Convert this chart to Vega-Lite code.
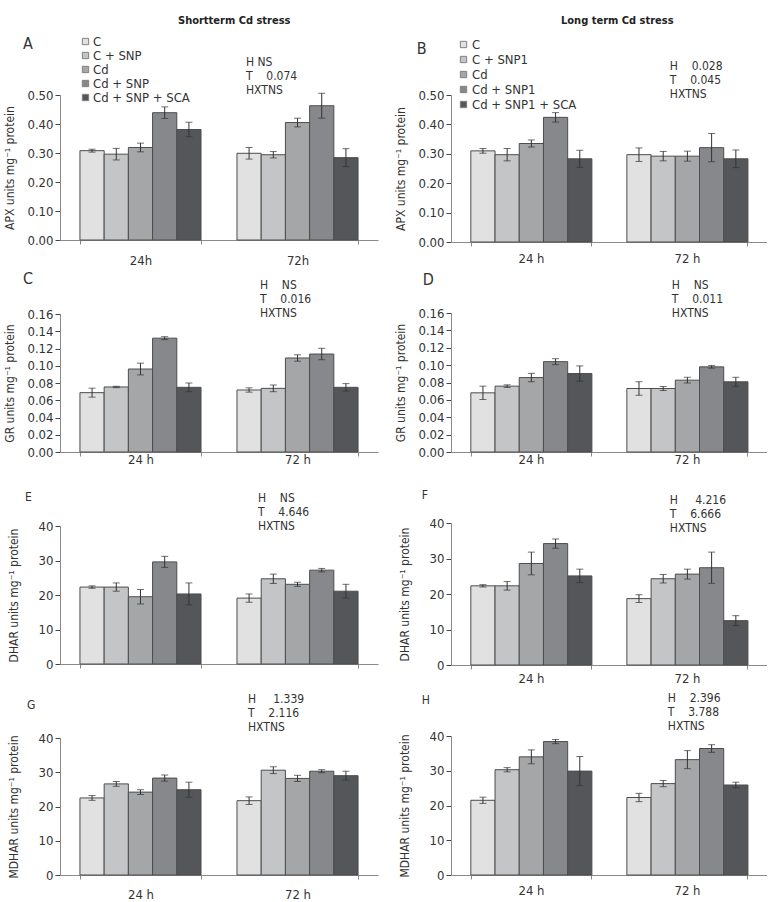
{
"$schema": "https://vega.github.io/schema/vega-lite/v6.json",
"background": "white",
"padding": {"left": 3, "top": 15, "right": 0, "bottom": 0},
"datasets": {"d": [
{"p":"A","h":"24 h","k":1,"g":"C","m":0.308,"lo":0.303,"hi":0.313},
{"p":"A","h":"24 h","k":2,"g":"C + SNP","m":0.296,"lo":0.276,"hi":0.316},
{"p":"A","h":"24 h","k":3,"g":"Cd","m":0.319,"lo":0.304,"hi":0.334},
{"p":"A","h":"24 h","k":4,"g":"Cd + SNP","m":0.439,"lo":0.419,"hi":0.459},
{"p":"A","h":"24 h","k":5,"g":"Cd + SNP + SCA","m":0.381,"lo":0.356,"hi":0.406},
{"p":"A","h":"72 h","k":1,"g":"C","m":0.299,"lo":0.279,"hi":0.319},
{"p":"A","h":"72 h","k":2,"g":"C + SNP","m":0.294,"lo":0.283,"hi":0.305},
{"p":"A","h":"72 h","k":3,"g":"Cd","m":0.405,"lo":0.390,"hi":0.420},
{"p":"A","h":"72 h","k":4,"g":"Cd + SNP","m":0.463,"lo":0.420,"hi":0.506},
{"p":"A","h":"72 h","k":5,"g":"Cd + SNP + SCA","m":0.284,"lo":0.253,"hi":0.315},
{"p":"B","h":"24 h","k":1,"g":"C","m":0.310,"lo":0.302,"hi":0.318},
{"p":"B","h":"24 h","k":2,"g":"C + SNP1","m":0.297,"lo":0.276,"hi":0.318},
{"p":"B","h":"24 h","k":3,"g":"Cd","m":0.335,"lo":0.323,"hi":0.347},
{"p":"B","h":"24 h","k":4,"g":"Cd + SNP1","m":0.424,"lo":0.408,"hi":0.440},
{"p":"B","h":"24 h","k":5,"g":"Cd + SNP1 + SCA","m":0.283,"lo":0.254,"hi":0.312},
{"p":"B","h":"72 h","k":1,"g":"C","m":0.297,"lo":0.274,"hi":0.320},
{"p":"B","h":"72 h","k":2,"g":"C + SNP1","m":0.292,"lo":0.276,"hi":0.308},
{"p":"B","h":"72 h","k":3,"g":"Cd","m":0.292,"lo":0.275,"hi":0.309},
{"p":"B","h":"72 h","k":4,"g":"Cd + SNP1","m":0.321,"lo":0.273,"hi":0.369},
{"p":"B","h":"72 h","k":5,"g":"Cd + SNP1 + SCA","m":0.283,"lo":0.253,"hi":0.313},
{"p":"C","h":"24 h","k":1,"g":"C","m":0.0688,"lo":0.0636,"hi":0.0740},
{"p":"C","h":"24 h","k":2,"g":"C + SNP","m":0.0754,"lo":0.0746,"hi":0.0762},
{"p":"C","h":"24 h","k":3,"g":"Cd","m":0.0962,"lo":0.0894,"hi":0.1030},
{"p":"C","h":"24 h","k":4,"g":"Cd + SNP","m":0.1320,"lo":0.1303,"hi":0.1337},
{"p":"C","h":"24 h","k":5,"g":"Cd + SNP + SCA","m":0.0750,"lo":0.0700,"hi":0.0800},
{"p":"C","h":"72 h","k":1,"g":"C","m":0.0719,"lo":0.0694,"hi":0.0744},
{"p":"C","h":"72 h","k":2,"g":"C + SNP","m":0.0738,"lo":0.0699,"hi":0.0777},
{"p":"C","h":"72 h","k":3,"g":"Cd","m":0.1090,"lo":0.1053,"hi":0.1127},
{"p":"C","h":"72 h","k":4,"g":"Cd + SNP","m":0.1136,"lo":0.1070,"hi":0.1202},
{"p":"C","h":"72 h","k":5,"g":"Cd + SNP + SCA","m":0.0750,"lo":0.0707,"hi":0.0793},
{"p":"D","h":"24 h","k":1,"g":"C","m":0.0681,"lo":0.0604,"hi":0.0758},
{"p":"D","h":"24 h","k":2,"g":"C + SNP1","m":0.0758,"lo":0.0743,"hi":0.0773},
{"p":"D","h":"24 h","k":3,"g":"Cd","m":0.0857,"lo":0.0809,"hi":0.0905},
{"p":"D","h":"24 h","k":4,"g":"Cd + SNP1","m":0.1040,"lo":0.1006,"hi":0.1074},
{"p":"D","h":"24 h","k":5,"g":"Cd + SNP1 + SCA","m":0.0903,"lo":0.0815,"hi":0.0991},
{"p":"D","h":"72 h","k":1,"g":"C","m":0.0731,"lo":0.0653,"hi":0.0809},
{"p":"D","h":"72 h","k":2,"g":"C + SNP1","m":0.0731,"lo":0.0708,"hi":0.0754},
{"p":"D","h":"72 h","k":3,"g":"Cd","m":0.0827,"lo":0.0794,"hi":0.0860},
{"p":"D","h":"72 h","k":4,"g":"Cd + SNP1","m":0.0980,"lo":0.0965,"hi":0.0995},
{"p":"D","h":"72 h","k":5,"g":"Cd + SNP1 + SCA","m":0.0808,"lo":0.0756,"hi":0.0860},
{"p":"E","h":"24 h","k":1,"g":"C","m":22.3,"lo":21.95,"hi":22.65},
{"p":"E","h":"24 h","k":2,"g":"C + SNP","m":22.3,"lo":21.1,"hi":23.5},
{"p":"E","h":"24 h","k":3,"g":"Cd","m":19.5,"lo":17.4,"hi":21.6},
{"p":"E","h":"24 h","k":4,"g":"Cd + SNP","m":29.6,"lo":28.0,"hi":31.2},
{"p":"E","h":"24 h","k":5,"g":"Cd + SNP + SCA","m":20.3,"lo":17.1,"hi":23.5},
{"p":"E","h":"72 h","k":1,"g":"C","m":19.1,"lo":17.9,"hi":20.3},
{"p":"E","h":"72 h","k":2,"g":"C + SNP","m":24.7,"lo":23.35,"hi":26.05},
{"p":"E","h":"72 h","k":3,"g":"Cd","m":23.1,"lo":22.5,"hi":23.7},
{"p":"E","h":"72 h","k":4,"g":"Cd + SNP","m":27.2,"lo":26.7,"hi":27.7},
{"p":"E","h":"72 h","k":5,"g":"Cd + SNP + SCA","m":21.1,"lo":19.1,"hi":23.1},
{"p":"F","h":"24 h","k":1,"g":"C","m":22.3,"lo":21.97,"hi":22.63},
{"p":"F","h":"24 h","k":2,"g":"C + SNP1","m":22.3,"lo":21.1,"hi":23.5},
{"p":"F","h":"24 h","k":3,"g":"Cd","m":28.6,"lo":25.4,"hi":31.8},
{"p":"F","h":"24 h","k":4,"g":"Cd + SNP1","m":34.2,"lo":32.9,"hi":35.5},
{"p":"F","h":"24 h","k":5,"g":"Cd + SNP1 + SCA","m":25.1,"lo":23.2,"hi":27.0},
{"p":"F","h":"72 h","k":1,"g":"C","m":18.7,"lo":17.6,"hi":19.8},
{"p":"F","h":"72 h","k":2,"g":"C + SNP1","m":24.3,"lo":23.1,"hi":25.5},
{"p":"F","h":"72 h","k":3,"g":"Cd","m":25.6,"lo":24.2,"hi":27.0},
{"p":"F","h":"72 h","k":4,"g":"Cd + SNP1","m":27.4,"lo":23.0,"hi":31.8},
{"p":"F","h":"72 h","k":5,"g":"Cd + SNP1 + SCA","m":12.5,"lo":11.1,"hi":13.9},
{"p":"G","h":"24 h","k":1,"g":"C","m":22.5,"lo":21.8,"hi":23.2},
{"p":"G","h":"24 h","k":2,"g":"C + SNP","m":26.6,"lo":25.9,"hi":27.3},
{"p":"G","h":"24 h","k":3,"g":"Cd","m":24.2,"lo":23.5,"hi":24.9},
{"p":"G","h":"24 h","k":4,"g":"Cd + SNP","m":28.3,"lo":27.4,"hi":29.2},
{"p":"G","h":"24 h","k":5,"g":"Cd + SNP + SCA","m":24.9,"lo":22.7,"hi":27.1},
{"p":"G","h":"72 h","k":1,"g":"C","m":21.7,"lo":20.6,"hi":22.8},
{"p":"G","h":"72 h","k":2,"g":"C + SNP","m":30.6,"lo":29.6,"hi":31.6},
{"p":"G","h":"72 h","k":3,"g":"Cd","m":28.2,"lo":27.3,"hi":29.1},
{"p":"G","h":"72 h","k":4,"g":"Cd + SNP","m":30.3,"lo":29.85,"hi":30.75},
{"p":"G","h":"72 h","k":5,"g":"Cd + SNP + SCA","m":29.0,"lo":27.7,"hi":30.3},
{"p":"H","h":"24 h","k":1,"g":"C","m":21.5,"lo":20.6,"hi":22.4},
{"p":"H","h":"24 h","k":2,"g":"C + SNP1","m":30.3,"lo":29.7,"hi":30.9},
{"p":"H","h":"24 h","k":3,"g":"Cd","m":34.0,"lo":32.0,"hi":36.0},
{"p":"H","h":"24 h","k":4,"g":"Cd + SNP1","m":38.4,"lo":37.8,"hi":39.0},
{"p":"H","h":"24 h","k":5,"g":"Cd + SNP1 + SCA","m":29.9,"lo":25.7,"hi":34.1},
{"p":"H","h":"72 h","k":1,"g":"C","m":22.3,"lo":21.1,"hi":23.5},
{"p":"H","h":"72 h","k":2,"g":"C + SNP1","m":26.3,"lo":25.4,"hi":27.2},
{"p":"H","h":"72 h","k":3,"g":"Cd","m":33.2,"lo":30.6,"hi":35.8},
{"p":"H","h":"72 h","k":4,"g":"Cd + SNP1","m":36.4,"lo":35.3,"hi":37.5},
{"p":"H","h":"72 h","k":5,"g":"Cd + SNP1 + SCA","m":25.9,"lo":25.1,"hi":26.7}
]},
"spacing": 16,
"resolve": {"scale": {"color": "independent", "x": "independent", "y": "independent"}},
"hconcat": [
{
 "title": {"text": "Shortterm Cd stress", "anchor": "start", "frame": "group", "dx": 118, "offset": 9},
 "bounds": "flush",
 "spacing": 74,
 "resolve": {"scale": {"color": "independent", "x": "independent", "y": "independent"}},
 "vconcat": [
 {
  "width": 318, "height": 145,
  "data": {"name": "d"},
  "transform": [{"filter": "datum.p == 'A'"}],
  "encoding": {"x": {"field": "h", "type": "nominal", "title": null, "scale": {"paddingInner": 0.229, "paddingOuter": 0.127}, "axis": {"title": null, "labelExpr": "isString(datum.value) ? replace(datum.value, ' ', '') : ''", "labelPadding": 10}}},
  "layer": [
   {"mark": {"type": "bar", "stroke": "#4d4d4d", "strokeWidth": 1},
    "encoding": {
     "xOffset": {"field": "k", "type": "ordinal", "scale": {"paddingInner": 0, "paddingOuter": 0}},
     "y": {"field": "m", "type": "quantitative", "scale": {"domain": [0, 0.5], "nice": false}, "axis": {"title": "APX units mg\u207b\u00b9 protein", "values": [0, 0.1, 0.2, 0.3, 0.4, 0.5], "format": ".2f", "titlePadding": 10}},
     "color": {"field": "g", "type": "nominal", "scale": {"domain": ["C", "C + SNP", "Cd", "Cd + SNP", "Cd + SNP + SCA"], "range": ["#e1e1e1", "#c4c5c7", "#a5a6a8", "#87888b", "#55565a"]}, "legend": {"title": null, "orient": "none", "legendX": 19, "legendY": -60, "symbolType": "square", "symbolSize": 40, "symbolStrokeColor": "#808080", "symbolStrokeWidth": 1, "labelFontSize": 13, "labelColor": "#333", "rowPadding": 0, "labelOffset": 1, "padding": 0}}}},
   {"mark": {"type": "rule", "color": "#333", "strokeWidth": 1}, "encoding": {"xOffset": {"field": "k", "type": "ordinal"}, "y": {"field": "lo", "type": "quantitative", "axis": {"title": "APX units mg\u207b\u00b9 protein", "values": [0, 0.1, 0.2, 0.3, 0.4, 0.5], "format": ".2f", "titlePadding": 10}}, "y2": {"field": "hi"}}},
   {"mark": {"type": "tick", "color": "#333", "size": 7, "thickness": 1}, "encoding": {"xOffset": {"field": "k", "type": "ordinal"}, "y": {"field": "lo", "type": "quantitative", "axis": {"title": "APX units mg\u207b\u00b9 protein", "values": [0, 0.1, 0.2, 0.3, 0.4, 0.5], "format": ".2f", "titlePadding": 10}}}},
   {"mark": {"type": "tick", "color": "#333", "size": 7, "thickness": 1}, "encoding": {"xOffset": {"field": "k", "type": "ordinal"}, "y": {"field": "hi", "type": "quantitative", "axis": {"title": "APX units mg\u207b\u00b9 protein", "values": [0, 0.1, 0.2, 0.3, 0.4, 0.5], "format": ".2f", "titlePadding": 10}}}},
   {"data": {"values": [{}]}, "mark": {"type": "text", "align": "left", "baseline": "top", "fontSize": 12, "lineHeight": 14, "dx": 9, "color": "#333"}, "encoding": {"x": {"datum": "72 h", "type": "nominal", "bandPosition": 0}, "y": {"datum": 0.631, "type": "quantitative", "axis": {"title": "APX units mg\u207b\u00b9 protein", "values": [0, 0.1, 0.2, 0.3, 0.4, 0.5], "format": ".2f", "titlePadding": 10}}, "text": {"value": ["H\u00a0NS", "T\u00a0\u00a0\u00a0\u00a00.074", "HXTNS"]}}},
   {"data": {"values": [{}]}, "mark": {"type": "text", "align": "left", "baseline": "top", "fontSize": 16, "dx": -57, "color": "#333"}, "encoding": {"x": {"datum": "24 h", "type": "nominal", "bandPosition": 0}, "y": {"datum": 0.703, "type": "quantitative", "axis": {"title": "APX units mg\u207b\u00b9 protein", "values": [0, 0.1, 0.2, 0.3, 0.4, 0.5], "format": ".2f", "titlePadding": 10}}, "text": {"value": "A"}}}
  ]
 },
 {
  "width": 318, "height": 138,
  "data": {"name": "d"},
  "transform": [{"filter": "datum.p == 'C'"}],
  "encoding": {"x": {"field": "h", "type": "nominal", "title": null, "scale": {"paddingInner": 0.229, "paddingOuter": 0.127}, "axis": {"title": null, "labelPadding": -3}}},
  "layer": [
   {"mark": {"type": "bar", "stroke": "#4d4d4d", "strokeWidth": 1},
    "encoding": {
     "xOffset": {"field": "k", "type": "ordinal", "scale": {"paddingInner": 0, "paddingOuter": 0}},
     "y": {"field": "m", "type": "quantitative", "scale": {"domain": [0, 0.16], "nice": false}, "axis": {"title": "GR units mg\u207b\u00b9 protein", "values": [0, 0.02, 0.04, 0.06, 0.08, 0.1, 0.12, 0.14, 0.16], "format": ".2f", "titlePadding": 10}},
     "color": {"field": "g", "type": "nominal", "scale": {"domain": ["C", "C + SNP", "Cd", "Cd + SNP", "Cd + SNP + SCA"], "range": ["#e1e1e1", "#c4c5c7", "#a5a6a8", "#87888b", "#55565a"]}, "legend": null}}},
   {"mark": {"type": "rule", "color": "#333", "strokeWidth": 1}, "encoding": {"xOffset": {"field": "k", "type": "ordinal"}, "y": {"field": "lo", "type": "quantitative", "axis": {"title": "GR units mg\u207b\u00b9 protein", "values": [0, 0.02, 0.04, 0.06, 0.08, 0.1, 0.12, 0.14, 0.16], "format": ".2f", "titlePadding": 10}}, "y2": {"field": "hi"}}},
   {"mark": {"type": "tick", "color": "#333", "size": 7, "thickness": 1}, "encoding": {"xOffset": {"field": "k", "type": "ordinal"}, "y": {"field": "lo", "type": "quantitative", "axis": {"title": "GR units mg\u207b\u00b9 protein", "values": [0, 0.02, 0.04, 0.06, 0.08, 0.1, 0.12, 0.14, 0.16], "format": ".2f", "titlePadding": 10}}}},
   {"mark": {"type": "tick", "color": "#333", "size": 7, "thickness": 1}, "encoding": {"xOffset": {"field": "k", "type": "ordinal"}, "y": {"field": "hi", "type": "quantitative", "axis": {"title": "GR units mg\u207b\u00b9 protein", "values": [0, 0.02, 0.04, 0.06, 0.08, 0.1, 0.12, 0.14, 0.16], "format": ".2f", "titlePadding": 10}}}},
   {"data": {"values": [{}]}, "mark": {"type": "text", "align": "left", "baseline": "top", "fontSize": 12, "lineHeight": 14, "dx": 23, "color": "#333"}, "encoding": {"x": {"datum": "72 h", "type": "nominal", "bandPosition": 0}, "y": {"datum": 0.1994, "type": "quantitative", "axis": {"title": "GR units mg\u207b\u00b9 protein", "values": [0, 0.02, 0.04, 0.06, 0.08, 0.1, 0.12, 0.14, 0.16], "format": ".2f", "titlePadding": 10}}, "text": {"value": ["H\u00a0\u00a0\u00a0\u00a0NS", "T\u00a0\u00a0\u00a0\u00a00.016", "HXTNS"]}}},
   {"data": {"values": [{}]}, "mark": {"type": "text", "align": "left", "baseline": "top", "fontSize": 16, "dx": -57, "color": "#333"}, "encoding": {"x": {"datum": "24 h", "type": "nominal", "bandPosition": 0}, "y": {"datum": 0.2099, "type": "quantitative", "axis": {"title": "GR units mg\u207b\u00b9 protein", "values": [0, 0.02, 0.04, 0.06, 0.08, 0.1, 0.12, 0.14, 0.16], "format": ".2f", "titlePadding": 10}}, "text": {"value": "C"}}}
  ]
 },
 {
  "width": 318, "height": 138,
  "data": {"name": "d"},
  "transform": [{"filter": "datum.p == 'E'"}],
  "encoding": {"x": {"field": "h", "type": "nominal", "title": null, "scale": {"paddingInner": 0.229, "paddingOuter": 0.127}, "axis": {"title": null, "labels": false}}},
  "layer": [
   {"mark": {"type": "bar", "stroke": "#4d4d4d", "strokeWidth": 1},
    "encoding": {
     "xOffset": {"field": "k", "type": "ordinal", "scale": {"paddingInner": 0, "paddingOuter": 0}},
     "y": {"field": "m", "type": "quantitative", "scale": {"domain": [0, 40], "nice": false}, "axis": {"title": "DHAR units mg\u207b\u00b9 protein", "values": [0, 10, 20, 30, 40], "titlePadding": 18}},
     "color": {"field": "g", "type": "nominal", "scale": {"domain": ["C", "C + SNP", "Cd", "Cd + SNP", "Cd + SNP + SCA"], "range": ["#e1e1e1", "#c4c5c7", "#a5a6a8", "#87888b", "#55565a"]}, "legend": null}}},
   {"mark": {"type": "rule", "color": "#333", "strokeWidth": 1}, "encoding": {"xOffset": {"field": "k", "type": "ordinal"}, "y": {"field": "lo", "type": "quantitative", "axis": {"title": "DHAR units mg\u207b\u00b9 protein", "values": [0, 10, 20, 30, 40], "titlePadding": 18}}, "y2": {"field": "hi"}}},
   {"mark": {"type": "tick", "color": "#333", "size": 7, "thickness": 1}, "encoding": {"xOffset": {"field": "k", "type": "ordinal"}, "y": {"field": "lo", "type": "quantitative", "axis": {"title": "DHAR units mg\u207b\u00b9 protein", "values": [0, 10, 20, 30, 40], "titlePadding": 18}}}},
   {"mark": {"type": "tick", "color": "#333", "size": 7, "thickness": 1}, "encoding": {"xOffset": {"field": "k", "type": "ordinal"}, "y": {"field": "hi", "type": "quantitative", "axis": {"title": "DHAR units mg\u207b\u00b9 protein", "values": [0, 10, 20, 30, 40], "titlePadding": 18}}}},
   {"data": {"values": [{}]}, "mark": {"type": "text", "align": "left", "baseline": "top", "fontSize": 12, "lineHeight": 14, "dx": 21, "color": "#333"}, "encoding": {"x": {"datum": "72 h", "type": "nominal", "bandPosition": 0}, "y": {"datum": 49.6, "type": "quantitative", "axis": {"title": "DHAR units mg\u207b\u00b9 protein", "values": [0, 10, 20, 30, 40], "titlePadding": 18}}, "text": {"value": ["H\u00a0\u00a0\u00a0\u00a0NS", "T\u00a0\u00a0\u00a0\u00a04.646", "HXTNS"]}}},
   {"data": {"values": [{}]}, "mark": {"type": "text", "align": "left", "baseline": "top", "fontSize": 12, "dx": -55, "color": "#333"}, "encoding": {"x": {"datum": "24 h", "type": "nominal", "bandPosition": 0}, "y": {"datum": 50.0, "type": "quantitative", "axis": {"title": "DHAR units mg\u207b\u00b9 protein", "values": [0, 10, 20, 30, 40], "titlePadding": 18}}, "text": {"value": "E"}}}
  ]
 },
 {
  "width": 318, "height": 137,
  "data": {"name": "d"},
  "transform": [{"filter": "datum.p == 'G'"}],
  "encoding": {"x": {"field": "h", "type": "nominal", "title": null, "scale": {"paddingInner": 0.229, "paddingOuter": 0.127}, "axis": {"title": null, "labelPadding": 9}}},
  "layer": [
   {"mark": {"type": "bar", "stroke": "#4d4d4d", "strokeWidth": 1},
    "encoding": {
     "xOffset": {"field": "k", "type": "ordinal", "scale": {"paddingInner": 0, "paddingOuter": 0}},
     "y": {"field": "m", "type": "quantitative", "scale": {"domain": [0, 40], "nice": false}, "axis": {"title": "MDHAR units mg\u207b\u00b9 protein", "values": [0, 10, 20, 30, 40], "titlePadding": 18}},
     "color": {"field": "g", "type": "nominal", "scale": {"domain": ["C", "C + SNP", "Cd", "Cd + SNP", "Cd + SNP + SCA"], "range": ["#e1e1e1", "#c4c5c7", "#a5a6a8", "#87888b", "#55565a"]}, "legend": null}}},
   {"mark": {"type": "rule", "color": "#333", "strokeWidth": 1}, "encoding": {"xOffset": {"field": "k", "type": "ordinal"}, "y": {"field": "lo", "type": "quantitative", "axis": {"title": "MDHAR units mg\u207b\u00b9 protein", "values": [0, 10, 20, 30, 40], "titlePadding": 18}}, "y2": {"field": "hi"}}},
   {"mark": {"type": "tick", "color": "#333", "size": 7, "thickness": 1}, "encoding": {"xOffset": {"field": "k", "type": "ordinal"}, "y": {"field": "lo", "type": "quantitative", "axis": {"title": "MDHAR units mg\u207b\u00b9 protein", "values": [0, 10, 20, 30, 40], "titlePadding": 18}}}},
   {"mark": {"type": "tick", "color": "#333", "size": 7, "thickness": 1}, "encoding": {"xOffset": {"field": "k", "type": "ordinal"}, "y": {"field": "hi", "type": "quantitative", "axis": {"title": "MDHAR units mg\u207b\u00b9 protein", "values": [0, 10, 20, 30, 40], "titlePadding": 18}}}},
   {"data": {"values": [{}]}, "mark": {"type": "text", "align": "left", "baseline": "top", "fontSize": 12, "lineHeight": 14, "dx": 11, "color": "#333"}, "encoding": {"x": {"datum": "72 h", "type": "nominal", "bandPosition": 0}, "y": {"datum": 52.8, "type": "quantitative", "axis": {"title": "MDHAR units mg\u207b\u00b9 protein", "values": [0, 10, 20, 30, 40], "titlePadding": 18}}, "text": {"value": ["H\u00a0\u00a0\u00a0\u00a0\u00a01.339", "T\u00a0\u00a0\u00a0\u00a02.116", "HXTNS"]}}},
   {"data": {"values": [{}]}, "mark": {"type": "text", "align": "left", "baseline": "top", "fontSize": 12, "dx": -53, "color": "#333"}, "encoding": {"x": {"datum": "24 h", "type": "nominal", "bandPosition": 0}, "y": {"datum": 51.2, "type": "quantitative", "axis": {"title": "MDHAR units mg\u207b\u00b9 protein", "values": [0, 10, 20, 30, 40], "titlePadding": 18}}, "text": {"value": "G"}}}
  ]
 }
 ]
},
{
 "title": {"text": "Long term Cd stress", "anchor": "start", "frame": "group", "dx": 110, "offset": 12},
 "bounds": "flush",
 "spacing": 71,
 "resolve": {"scale": {"color": "independent", "x": "independent", "y": "independent"}},
 "vconcat": [
 {
  "width": 316, "height": 147,
  "data": {"name": "d"},
  "transform": [{"filter": "datum.p == 'B'"}],
  "encoding": {"x": {"field": "h", "type": "nominal", "title": null, "scale": {"paddingInner": 0.229, "paddingOuter": 0.127}, "axis": {"title": null, "labelPadding": 6}}},
  "layer": [
   {"mark": {"type": "bar", "stroke": "#4d4d4d", "strokeWidth": 1},
    "encoding": {
     "xOffset": {"field": "k", "type": "ordinal", "scale": {"paddingInner": 0, "paddingOuter": 0}},
     "y": {"field": "m", "type": "quantitative", "scale": {"domain": [0, 0.5], "nice": false}, "axis": {"title": "APX units mg\u207b\u00b9 protein", "values": [0, 0.1, 0.2, 0.3, 0.4, 0.5], "format": ".2f", "titlePadding": 10}},
     "color": {"field": "g", "type": "nominal", "scale": {"domain": ["C", "C + SNP1", "Cd", "Cd + SNP1", "Cd + SNP1 + SCA"], "range": ["#e1e1e1", "#c4c5c7", "#a5a6a8", "#87888b", "#55565a"]}, "legend": {"title": null, "orient": "none", "legendX": 6, "legendY": -57, "symbolType": "square", "symbolSize": 40, "symbolStrokeColor": "#808080", "symbolStrokeWidth": 1, "labelFontSize": 13, "labelColor": "#333", "rowPadding": 1, "labelOffset": 2, "padding": 0}}}},
   {"mark": {"type": "rule", "color": "#333", "strokeWidth": 1}, "encoding": {"xOffset": {"field": "k", "type": "ordinal"}, "y": {"field": "lo", "type": "quantitative", "axis": {"title": "APX units mg\u207b\u00b9 protein", "values": [0, 0.1, 0.2, 0.3, 0.4, 0.5], "format": ".2f", "titlePadding": 10}}, "y2": {"field": "hi"}}},
   {"mark": {"type": "tick", "color": "#333", "size": 7, "thickness": 1}, "encoding": {"xOffset": {"field": "k", "type": "ordinal"}, "y": {"field": "lo", "type": "quantitative", "axis": {"title": "APX units mg\u207b\u00b9 protein", "values": [0, 0.1, 0.2, 0.3, 0.4, 0.5], "format": ".2f", "titlePadding": 10}}}},
   {"mark": {"type": "tick", "color": "#333", "size": 7, "thickness": 1}, "encoding": {"xOffset": {"field": "k", "type": "ordinal"}, "y": {"field": "hi", "type": "quantitative", "axis": {"title": "APX units mg\u207b\u00b9 protein", "values": [0, 0.1, 0.2, 0.3, 0.4, 0.5], "format": ".2f", "titlePadding": 10}}}},
   {"data": {"values": [{}]}, "mark": {"type": "text", "align": "left", "baseline": "top", "fontSize": 12, "lineHeight": 14, "dx": 43, "color": "#333"}, "encoding": {"x": {"datum": "72 h", "type": "nominal", "bandPosition": 0}, "y": {"datum": 0.616, "type": "quantitative", "axis": {"title": "APX units mg\u207b\u00b9 protein", "values": [0, 0.1, 0.2, 0.3, 0.4, 0.5], "format": ".2f", "titlePadding": 10}}, "text": {"value": ["H\u00a0\u00a0\u00a0\u00a00.028", "T\u00a0\u00a0\u00a0\u00a00.045", "HXTNS"]}}},
   {"data": {"values": [{}]}, "mark": {"type": "text", "align": "left", "baseline": "top", "fontSize": 16, "dx": -54, "color": "#333"}, "encoding": {"x": {"datum": "24 h", "type": "nominal", "bandPosition": 0}, "y": {"datum": 0.685, "type": "quantitative", "axis": {"title": "APX units mg\u207b\u00b9 protein", "values": [0, 0.1, 0.2, 0.3, 0.4, 0.5], "format": ".2f", "titlePadding": 10}}, "text": {"value": "B"}}}
  ]
 },
 {
  "width": 316, "height": 139,
  "data": {"name": "d"},
  "transform": [{"filter": "datum.p == 'D'"}],
  "encoding": {"x": {"field": "h", "type": "nominal", "title": null, "scale": {"paddingInner": 0.229, "paddingOuter": 0.127}, "axis": {"title": null, "labelPadding": -3}}},
  "layer": [
   {"mark": {"type": "bar", "stroke": "#4d4d4d", "strokeWidth": 1},
    "encoding": {
     "xOffset": {"field": "k", "type": "ordinal", "scale": {"paddingInner": 0, "paddingOuter": 0}},
     "y": {"field": "m", "type": "quantitative", "scale": {"domain": [0, 0.16], "nice": false}, "axis": {"title": "GR units mg\u207b\u00b9 protein", "values": [0, 0.02, 0.04, 0.06, 0.08, 0.1, 0.12, 0.14, 0.16], "format": ".2f", "titlePadding": 10}},
     "color": {"field": "g", "type": "nominal", "scale": {"domain": ["C", "C + SNP1", "Cd", "Cd + SNP1", "Cd + SNP1 + SCA"], "range": ["#e1e1e1", "#c4c5c7", "#a5a6a8", "#87888b", "#55565a"]}, "legend": null}}},
   {"mark": {"type": "rule", "color": "#333", "strokeWidth": 1}, "encoding": {"xOffset": {"field": "k", "type": "ordinal"}, "y": {"field": "lo", "type": "quantitative", "axis": {"title": "GR units mg\u207b\u00b9 protein", "values": [0, 0.02, 0.04, 0.06, 0.08, 0.1, 0.12, 0.14, 0.16], "format": ".2f", "titlePadding": 10}}, "y2": {"field": "hi"}}},
   {"mark": {"type": "tick", "color": "#333", "size": 7, "thickness": 1}, "encoding": {"xOffset": {"field": "k", "type": "ordinal"}, "y": {"field": "lo", "type": "quantitative", "axis": {"title": "GR units mg\u207b\u00b9 protein", "values": [0, 0.02, 0.04, 0.06, 0.08, 0.1, 0.12, 0.14, 0.16], "format": ".2f", "titlePadding": 10}}}},
   {"mark": {"type": "tick", "color": "#333", "size": 7, "thickness": 1}, "encoding": {"xOffset": {"field": "k", "type": "ordinal"}, "y": {"field": "hi", "type": "quantitative", "axis": {"title": "GR units mg\u207b\u00b9 protein", "values": [0, 0.02, 0.04, 0.06, 0.08, 0.1, 0.12, 0.14, 0.16], "format": ".2f", "titlePadding": 10}}}},
   {"data": {"values": [{}]}, "mark": {"type": "text", "align": "left", "baseline": "top", "fontSize": 12, "lineHeight": 14, "dx": 45, "color": "#333"}, "encoding": {"x": {"datum": "72 h", "type": "nominal", "bandPosition": 0}, "y": {"datum": 0.198, "type": "quantitative", "axis": {"title": "GR units mg\u207b\u00b9 protein", "values": [0, 0.02, 0.04, 0.06, 0.08, 0.1, 0.12, 0.14, 0.16], "format": ".2f", "titlePadding": 10}}, "text": {"value": ["H\u00a0\u00a0\u00a0\u00a0NS", "T\u00a0\u00a0\u00a0\u00a00.011", "HXTNS"]}}},
   {"data": {"values": [{}]}, "mark": {"type": "text", "align": "left", "baseline": "top", "fontSize": 16, "dx": -48, "color": "#333"}, "encoding": {"x": {"datum": "24 h", "type": "nominal", "bandPosition": 0}, "y": {"datum": 0.2072, "type": "quantitative", "axis": {"title": "GR units mg\u207b\u00b9 protein", "values": [0, 0.02, 0.04, 0.06, 0.08, 0.1, 0.12, 0.14, 0.16], "format": ".2f", "titlePadding": 10}}, "text": {"value": "D"}}}
  ]
 },
 {
  "width": 316, "height": 142,
  "data": {"name": "d"},
  "transform": [{"filter": "datum.p == 'F'"}],
  "encoding": {"x": {"field": "h", "type": "nominal", "title": null, "scale": {"paddingInner": 0.229, "paddingOuter": 0.127}, "axis": {"title": null, "labelPadding": 3}}},
  "layer": [
   {"mark": {"type": "bar", "stroke": "#4d4d4d", "strokeWidth": 1},
    "encoding": {
     "xOffset": {"field": "k", "type": "ordinal", "scale": {"paddingInner": 0, "paddingOuter": 0}},
     "y": {"field": "m", "type": "quantitative", "scale": {"domain": [0, 40], "nice": false}, "axis": {"title": "DHAR units mg\u207b\u00b9 protein", "values": [0, 10, 20, 30, 40], "titlePadding": 18}},
     "color": {"field": "g", "type": "nominal", "scale": {"domain": ["C", "C + SNP1", "Cd", "Cd + SNP1", "Cd + SNP1 + SCA"], "range": ["#e1e1e1", "#c4c5c7", "#a5a6a8", "#87888b", "#55565a"]}, "legend": null}}},
   {"mark": {"type": "rule", "color": "#333", "strokeWidth": 1}, "encoding": {"xOffset": {"field": "k", "type": "ordinal"}, "y": {"field": "lo", "type": "quantitative", "axis": {"title": "DHAR units mg\u207b\u00b9 protein", "values": [0, 10, 20, 30, 40], "titlePadding": 18}}, "y2": {"field": "hi"}}},
   {"mark": {"type": "tick", "color": "#333", "size": 7, "thickness": 1}, "encoding": {"xOffset": {"field": "k", "type": "ordinal"}, "y": {"field": "lo", "type": "quantitative", "axis": {"title": "DHAR units mg\u207b\u00b9 protein", "values": [0, 10, 20, 30, 40], "titlePadding": 18}}}},
   {"mark": {"type": "tick", "color": "#333", "size": 7, "thickness": 1}, "encoding": {"xOffset": {"field": "k", "type": "ordinal"}, "y": {"field": "hi", "type": "quantitative", "axis": {"title": "DHAR units mg\u207b\u00b9 protein", "values": [0, 10, 20, 30, 40], "titlePadding": 18}}}},
   {"data": {"values": [{}]}, "mark": {"type": "text", "align": "left", "baseline": "top", "fontSize": 12, "lineHeight": 14, "dx": 43, "color": "#333"}, "encoding": {"x": {"datum": "72 h", "type": "nominal", "bandPosition": 0}, "y": {"datum": 47.9, "type": "quantitative", "axis": {"title": "DHAR units mg\u207b\u00b9 protein", "values": [0, 10, 20, 30, 40], "titlePadding": 18}}, "text": {"value": ["H\u00a0\u00a0\u00a0\u00a0\u00a04.216", "T\u00a0\u00a0\u00a0\u00a06.666", "HXTNS"]}}},
   {"data": {"values": [{}]}, "mark": {"type": "text", "align": "left", "baseline": "top", "fontSize": 12, "dx": -49, "color": "#333"}, "encoding": {"x": {"datum": "24 h", "type": "nominal", "bandPosition": 0}, "y": {"datum": 49.4, "type": "quantitative", "axis": {"title": "DHAR units mg\u207b\u00b9 protein", "values": [0, 10, 20, 30, 40], "titlePadding": 18}}, "text": {"value": "F"}}}
  ]
 },
 {
  "width": 316, "height": 139,
  "data": {"name": "d"},
  "transform": [{"filter": "datum.p == 'H'"}],
  "encoding": {"x": {"field": "h", "type": "nominal", "title": null, "scale": {"paddingInner": 0.229, "paddingOuter": 0.127}, "axis": {"title": null, "labelPadding": 5}}},
  "layer": [
   {"mark": {"type": "bar", "stroke": "#4d4d4d", "strokeWidth": 1},
    "encoding": {
     "xOffset": {"field": "k", "type": "ordinal", "scale": {"paddingInner": 0, "paddingOuter": 0}},
     "y": {"field": "m", "type": "quantitative", "scale": {"domain": [0, 40], "nice": false}, "axis": {"title": "MDHAR units mg\u207b\u00b9 protein", "values": [0, 10, 20, 30, 40], "titlePadding": 18}},
     "color": {"field": "g", "type": "nominal", "scale": {"domain": ["C", "C + SNP1", "Cd", "Cd + SNP1", "Cd + SNP1 + SCA"], "range": ["#e1e1e1", "#c4c5c7", "#a5a6a8", "#87888b", "#55565a"]}, "legend": null}}},
   {"mark": {"type": "rule", "color": "#333", "strokeWidth": 1}, "encoding": {"xOffset": {"field": "k", "type": "ordinal"}, "y": {"field": "lo", "type": "quantitative", "axis": {"title": "MDHAR units mg\u207b\u00b9 protein", "values": [0, 10, 20, 30, 40], "titlePadding": 18}}, "y2": {"field": "hi"}}},
   {"mark": {"type": "tick", "color": "#333", "size": 7, "thickness": 1}, "encoding": {"xOffset": {"field": "k", "type": "ordinal"}, "y": {"field": "lo", "type": "quantitative", "axis": {"title": "MDHAR units mg\u207b\u00b9 protein", "values": [0, 10, 20, 30, 40], "titlePadding": 18}}}},
   {"mark": {"type": "tick", "color": "#333", "size": 7, "thickness": 1}, "encoding": {"xOffset": {"field": "k", "type": "ordinal"}, "y": {"field": "hi", "type": "quantitative", "axis": {"title": "MDHAR units mg\u207b\u00b9 protein", "values": [0, 10, 20, 30, 40], "titlePadding": 18}}}},
   {"data": {"values": [{}]}, "mark": {"type": "text", "align": "left", "baseline": "top", "fontSize": 12, "lineHeight": 14, "dx": 41, "color": "#333"}, "encoding": {"x": {"datum": "72 h", "type": "nominal", "bandPosition": 0}, "y": {"datum": 52.4, "type": "quantitative", "axis": {"title": "MDHAR units mg\u207b\u00b9 protein", "values": [0, 10, 20, 30, 40], "titlePadding": 18}}, "text": {"value": ["H\u00a0\u00a0\u00a0\u00a02.396", "T\u00a0\u00a0\u00a0\u00a03.788", "HXTNS"]}}},
   {"data": {"values": [{}]}, "mark": {"type": "text", "align": "left", "baseline": "top", "fontSize": 12, "dx": -49, "color": "#333"}, "encoding": {"x": {"datum": "24 h", "type": "nominal", "bandPosition": 0}, "y": {"datum": 51.7, "type": "quantitative", "axis": {"title": "MDHAR units mg\u207b\u00b9 protein", "values": [0, 10, 20, 30, 40], "titlePadding": 18}}, "text": {"value": "H"}}}
  ]
 }
 ]
}
],
"config": {
 "font": "DejaVu Sans Condensed",
 "view": {"stroke": null},
 "title": {"font": "DejaVu Sans Condensed", "fontSize": 11, "fontWeight": "bold", "color": "#222"},
 "axisX": {"domainColor": "#8a8a8a", "tickColor": "#8a8a8a", "tickBand": "extent", "tickSize": 4, "labelAngle": 0, "labelFontSize": 13, "labelColor": "#333", "labelFont": "DejaVu Sans Condensed"},
 "axisY": {"domainColor": "#8a8a8a", "tickColor": "#444", "tickSize": 5, "labelFontSize": 13, "labelColor": "#333", "labelPadding": 2, "labelOverlap": false, "titleFontSize": 12, "titleFontWeight": "normal", "titleColor": "#333", "grid": false, "labelFont": "DejaVu Sans Condensed", "titleFont": "DejaVu Sans Condensed"},
 "legend": {"labelFont": "DejaVu Sans Condensed"},
 "text": {"font": "DejaVu Sans Condensed"}
}
}
